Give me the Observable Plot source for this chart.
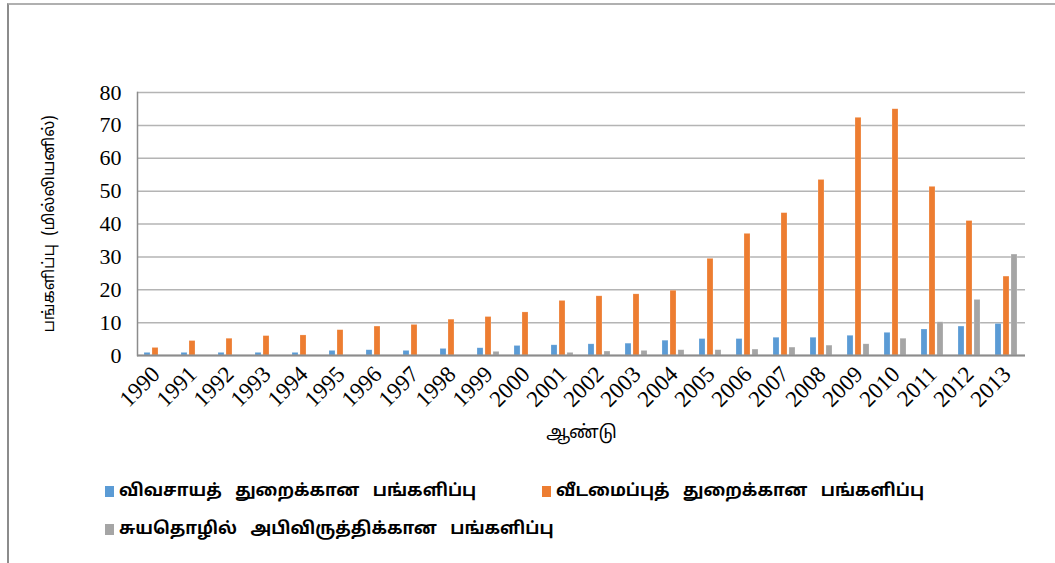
<!DOCTYPE html>
<html>
<head>
<meta charset="utf-8">
<script src="https://cdn.jsdelivr.net/npm/d3@7"></script>
<script src="https://cdn.jsdelivr.net/npm/@observablehq/plot@0.6"></script>
<style>
  html, body { margin: 0; padding: 0; background: #fff; }
  #wrap { position: relative; width: 1055px; height: 563px; overflow: hidden; }
  #border { position: absolute; left: 7px; top: 3px; right: 0; bottom: 0; border-left: 2px solid #8c8c8c; border-top: 2px solid #b0b0b0; pointer-events: none; }
  #chart { position: absolute; left: 0; top: 0; }
  #legend { position: absolute; left: 0; top: 481px; width: 1055px; font-family: "Noto Sans Tamil", "Lohit Tamil", "Latha", "Noto Sans", sans-serif; font-size: 17px; font-weight: bold; color: #000; word-spacing: 9px; }
  .item { position: absolute; white-space: nowrap; display: flex; align-items: center; }
  .sw { width: 9px; height: 11px; margin-right: 5px; display: inline-block; }
</style>
</head>
<body>
<div id="wrap">
  <div id="chart"></div>
  <div id="legend"></div>
  <div id="border"></div>
</div>
<script>
const years = ["1990","1991","1992","1993","1994","1995","1996","1997","1998","1999","2000","2001","2002","2003","2004","2005","2006","2007","2008","2009","2010","2011","2012","2013"];
const agriculture = [0.8,0.8,0.8,0.8,0.8,1.4,1.6,1.4,2.0,2.2,2.9,3.1,3.4,3.6,4.5,5.0,5.0,5.4,5.4,6.0,6.9,7.9,8.8,9.6];
const housing = [2.3,4.4,5.1,5.9,6.1,7.7,8.8,9.3,10.9,11.7,13.1,16.6,18.0,18.6,19.7,29.4,37.0,43.3,53.4,72.3,74.9,51.3,40.9,24.0];
const selfEmployment = [0,0,0,0,0,0,0,0,0,1.1,0,0.8,1.2,1.4,1.6,1.6,1.8,2.4,3.0,3.4,5.1,10.1,16.9,30.7];
const seriesNames = ["விவசாயத் துறைக்கான பங்களிப்பு","வீடமைப்புத் துறைக்கான பங்களிப்பு","சுயதொழில் அபிவிருத்திக்கான பங்களிப்பு"];
const seriesColors = ["#5B9BD5","#ED7D31","#A5A5A5"];
const yTicks = [0,10,20,30,40,50,60,70,80];
const yLabel = "பங்களிப்பு  (மில்லியனில்)";
const xLabel = "ஆண்டு";

const seriesValues = [agriculture, housing, selfEmployment];
const data = [];
years.forEach((yr, i) => {
  seriesNames.forEach((s, k) => {
    data.push({year: yr, series: s, value: seriesValues[k][i]});
  });
});

const tamilFont = `"Noto Sans Tamil", "Lohit Tamil", "Latha", "Noto Sans", sans-serif`;
const serifFont = `"Liberation Serif", "Times New Roman", serif`;

const chart = Plot.plot({
  width: 1055,
  height: 460,
  marginLeft: 129,
  marginRight: 22,
  marginTop: 92,
  marginBottom: 105,
  style: {fontFamily: serifFont, fontSize: "20px", color: "#000", background: "transparent"},
  fx: {domain: years, padding: 0, label: xLabel, labelAnchor: "center"},
  x: {domain: seriesNames, paddingInner: 0.24, paddingOuter: 0.88, axis: null},
  y: {domain: [0, 80], ticks: yTicks, label: yLabel},
  color: {domain: seriesNames, range: seriesColors},
  marks: [
    Plot.gridY(yTicks, {stroke: "#b4b4b4", strokeOpacity: 1, strokeWidth: 1.5}),
    Plot.barY(data.filter(d => d.value > 0), {fx: "year", x: "series", y: "value", fill: "series", stroke: "#fff", strokeOpacity: 0.35, strokeWidth: 0.6}),
    Plot.ruleY([0], {stroke: "#8c8c8c", strokeWidth: 2.2}),
    Plot.frame({anchor: "left", facet: "super", stroke: "#8c8c8c", strokeWidth: 1.5}),
    Plot.axisY(yTicks, {tickSize: 0, tickPadding: 16, fontSize: 22, fontFamily: serifFont, label: yLabel, labelAnchor: "center", labelOffset: 95, labelArrow: "none"}),
    Plot.axisFx({anchor: "bottom", tickSize: 0, tickPadding: 15, tickRotate: -45, fontSize: 23, fontFamily: serifFont, label: xLabel, labelAnchor: "center", labelOffset: 82, labelArrow: "none"})
  ]
});
document.getElementById("chart").appendChild(chart);

// style Tamil axis labels
d3.select(chart).selectAll("g[aria-label='y-axis label'] text")
  .style("font-family", tamilFont).style("font-size", "16px").style("white-space", "pre");
d3.select(chart).selectAll("g[aria-label='fx-axis label'] text")
  .style("font-family", tamilFont).style("font-size", "18px");

const legend = document.getElementById("legend");
const positions = [[105, 0], [542, 0], [105, 38]];
seriesNames.forEach((s, k) => {
  const it = document.createElement("div");
  it.className = "item";
  it.style.left = positions[k][0] + "px";
  it.style.top = positions[k][1] + "px";
  const sw = document.createElement("span");
  sw.className = "sw";
  sw.style.background = seriesColors[k];
  it.appendChild(sw);
  const t = document.createElement("span");
  t.textContent = s;
  it.appendChild(t);
  legend.appendChild(it);
});
</script>
</body>
</html>
